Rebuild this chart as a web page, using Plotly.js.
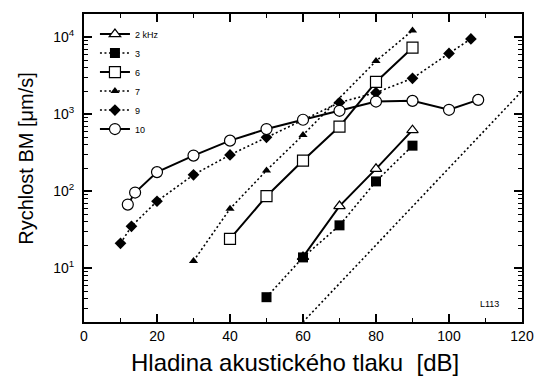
<!DOCTYPE html>
<html>
<head>
<meta charset="utf-8">
<script src="https://cdn.plot.ly/plotly-3.0.1.min.js"></script>
<style>
  html, body { margin: 0; padding: 0; background: #ffffff; }
  #chart { width: 535px; height: 385px; }
</style>
</head>
<body>
<div id="chart"></div>
<script>
// Basilar-membrane velocity vs. sound pressure level, by stimulus frequency
var seriesNames = ['2 kHz', '3', '6', '7', '9', '10'];

var x2k  = [60, 70, 80, 90];
var y2k  = [14, 64, 195, 620];

var x3k  = [50, 60, 70, 80, 90];
var y3k  = [4.2, 13.8, 36, 134, 390];

var x6k  = [40, 50, 60, 70, 80, 90];
var y6k  = [24, 86, 250, 690, 2620, 7300];

var x7k  = [30, 40, 50, 60, 80, 90];
var y7k  = [12.4, 59, 186, 537, 4900, 12200];

var x9k  = [10, 13, 20, 30, 40, 50, 70, 80, 90, 100, 106];
var y9k  = [21, 35, 74, 163, 296, 500, 1416, 1905, 2920, 6160, 9500];

var x10k = [12, 14, 20, 30, 40, 50, 60, 70, 80, 90, 100, 108];
var y10k = [67, 96, 177, 290, 453, 641, 847, 1107, 1459, 1489, 1140, 1535];

// proportional-growth reference line (one decade per 20 dB)
var xRef = [60, 120];
var yRef = [2, 2000];

var yTickVals = [10, 100, 1000, 10000];
var yTickText = ['10<sup>1</sup>', '10<sup>2</sup>', '10<sup>3</sup>', '10<sup>4</sup>'];

var xTitle = 'Hladina akustického tlaku\u00a0\u00a0[dB]';
var yTitle = 'Rychlost BM [\u03bcm/s]';

var minorVals = [];
for (var e = 0; e <= 4; e++) {
  for (var m = 2; m <= 9; m++) minorVals.push(m * Math.pow(10, e));
}

var DOT = '2px,2.5px';
var SANS = 'Liberation Sans, Arial, sans-serif';

function series(name, xs, ys, dash, marker) {
  return {
    type: 'scatter', mode: 'lines+markers', name: name, x: xs, y: ys,
    line: { color: '#000', width: dash === 'solid' ? 2 : 1.6, dash: dash },
    marker: marker
  };
}

var data = [
  { type: 'scatter', mode: 'lines', x: xRef, y: yRef, showlegend: false,
    line: { color: '#000', width: 1.6, dash: DOT }, hoverinfo: 'skip' },
  series(seriesNames[0], x2k, y2k, 'solid',
    { symbol: 'triangle-up', size: 10, color: '#fff', line: { color: '#000', width: 1.2 } }),
  series(seriesNames[1], x3k, y3k, DOT,
    { symbol: 'square', size: 10, color: '#000', line: { color: '#000', width: 0 } }),
  series(seriesNames[2], x6k, y6k, 'solid',
    { symbol: 'square', size: 11, color: '#fff', line: { color: '#000', width: 1.2 } }),
  series(seriesNames[3], x7k, y7k, DOT,
    { symbol: 'triangle-up', size: 8, color: '#000', line: { color: '#000', width: 0 } }),
  series(seriesNames[4], x9k, y9k, DOT,
    { symbol: 'diamond', size: 9, color: '#000', line: { color: '#000', width: 0 } }),
  series(seriesNames[5], x10k, y10k, 'solid',
    { symbol: 'circle', size: 11, color: '#fff', line: { color: '#000', width: 1.2 } })
];

var layout = {
  width: 535, height: 385,
  margin: { l: 84, r: 13, t: 14, b: 63 },
  paper_bgcolor: '#ffffff', plot_bgcolor: '#ffffff',
  font: { family: SANS, color: '#000', size: 13 },
  showlegend: true,
  legend: {
    x: 0.025, y: 0.982, xanchor: 'left', yanchor: 'top',
    bgcolor: 'rgba(0,0,0,0)', borderwidth: 0,
    font: { size: 9, family: SANS },
    tracegroupgap: 0, itemwidth: 30
  },
  xaxis: {
    range: [0, 120], dtick: 20, tick0: 0,
    showgrid: false, zeroline: false,
    showline: true, linecolor: '#000', linewidth: 2, mirror: 'allticks',
    ticks: 'inside', ticklen: 8, tickwidth: 1.5, tickcolor: '#000',
    minor: { dtick: 10, ticks: 'inside', ticklen: 4, tickwidth: 1, tickcolor: '#000', showgrid: false },
    tickfont: { size: 14 }
  },
  yaxis: {
    type: 'log', range: [Math.log10(2), Math.log10(20000)],
    tickmode: 'array', tickvals: yTickVals, ticktext: yTickText,
    showgrid: false, zeroline: false,
    showline: true, linecolor: '#000', linewidth: 2, mirror: 'allticks',
    ticks: 'inside', ticklen: 8, tickwidth: 1.5, tickcolor: '#000',
    minor: { tickmode: 'array', tickvals: minorVals, ticks: 'inside', ticklen: 4, tickwidth: 1, tickcolor: '#000', showgrid: false },
    tickfont: { size: 14 }, ticklabelstandoff: 5
  },
  annotations: [
    { text: xTitle, xref: 'paper', yref: 'paper', x: 0.482, y: -0.133, showarrow: false,
      xanchor: 'center', yanchor: 'middle', font: { size: 24, family: SANS } },
    { text: yTitle, xref: 'paper', yref: 'paper', x: -0.1324, y: 0.53, showarrow: false,
      textangle: -90, xanchor: 'center', yanchor: 'middle',
      font: { size: 20, family: SANS } },
    { text: 'L113', xref: 'x', yref: 'paper', x: 111, y: 0.06, showarrow: false,
      xanchor: 'center', yanchor: 'middle', font: { size: 9, family: SANS } }
  ]
};

Plotly.newPlot('chart', data, layout, { displayModeBar: false, staticPlot: true });
</script>
</body>
</html>
